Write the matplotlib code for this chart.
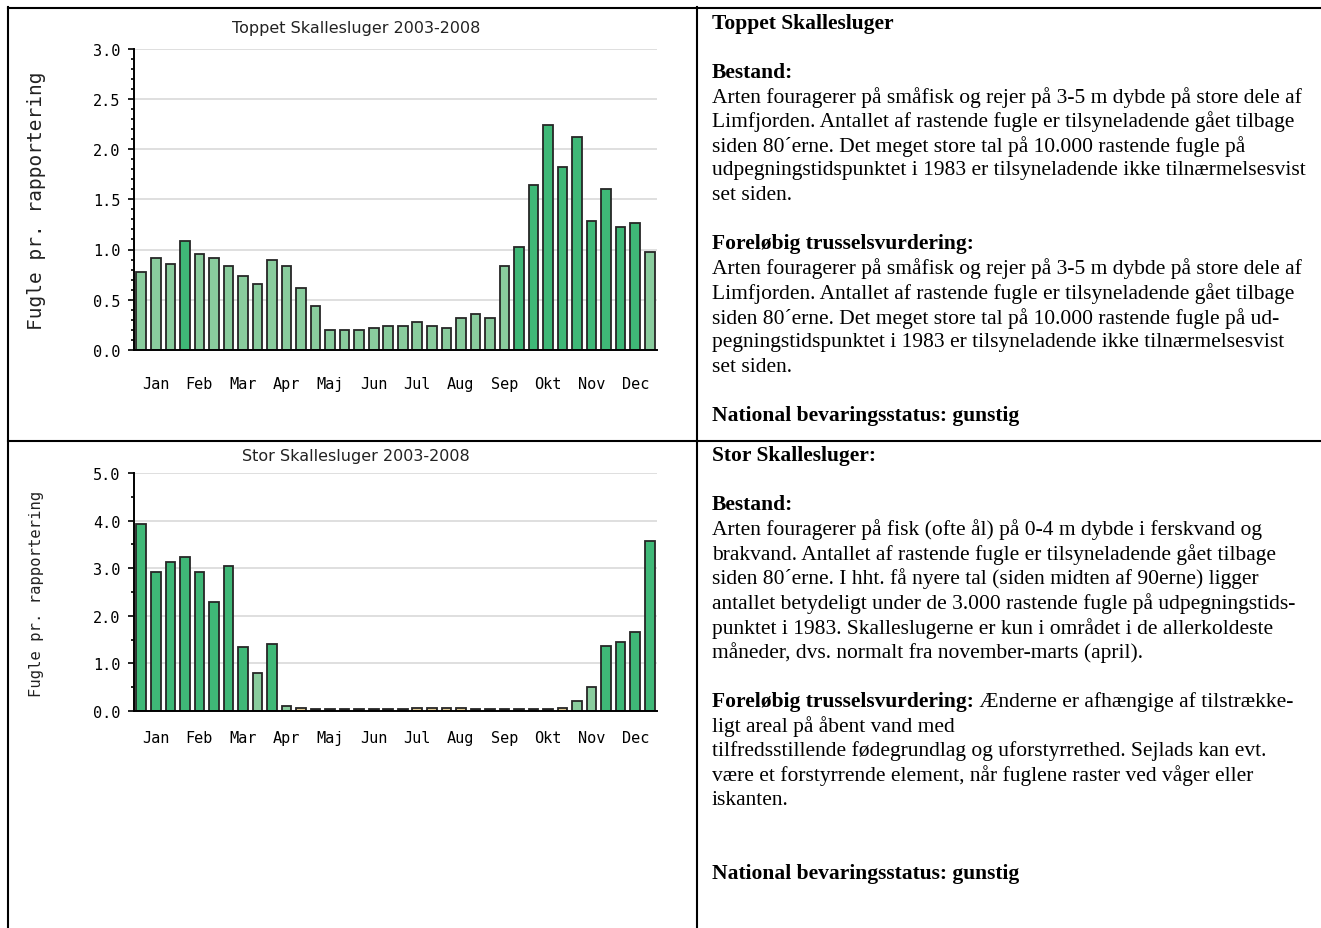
import matplotlib
matplotlib.use("Agg")
import matplotlib.pyplot as plt
from matplotlib.lines import Line2D
from matplotlib.ticker import MultipleLocator

W, H = 1321, 929

months = ["Jan", "Feb", "Mar", "Apr", "Maj", "Jun", "Jul", "Aug", "Sep", "Okt", "Nov", "Dec"]

# three bars per month
toppet_values = [0.78, 0.92, 0.86, 1.08, 0.96, 0.92, 0.84, 0.74, 0.66, 0.90, 0.84, 0.62,
                 0.44, 0.20, 0.20, 0.20, 0.22, 0.24, 0.24, 0.28, 0.24, 0.22, 0.32, 0.36,
                 0.32, 0.84, 1.02, 1.64, 2.24, 1.82, 2.12, 1.28, 1.60, 1.22, 1.26, 0.98]
toppet_shade = ["l", "l", "l", "d", "l", "l", "l", "l", "l", "l", "l", "l",
                "l", "l", "l", "l", "l", "l", "l", "l", "l", "l", "l", "l",
                "l", "l", "d", "d", "d", "d", "d", "d", "d", "d", "d", "l"]

stor_values = [3.93, 2.93, 3.14, 3.24, 2.93, 2.28, 3.04, 1.34, 0.80, 1.40, 0.11, 0.07,
               0.04, 0.04, 0.04, 0.04, 0.04, 0.04, 0.04, 0.07, 0.07, 0.07, 0.07, 0.04,
               0.04, 0.04, 0.04, 0.04, 0.04, 0.07, 0.21, 0.50, 1.37, 1.44, 1.65, 3.57]
stor_shade = ["d", "d", "d", "d", "d", "d", "d", "d", "l", "d", "l", "t",
              "k", "k", "k", "k", "k", "k", "k", "t", "t", "t", "t", "k",
              "k", "k", "k", "k", "k", "t", "l", "l", "d", "d", "d", "d"]

shade_colors = {"d": "#3fb877", "l": "#89cc9d", "t": "#e2cc93", "k": "#1a1a1a"}

toppet_text = [
    ("Toppet Skallesluger", True),
    ("", False),
    ("Bestand:", True),
    ("Arten fouragerer på småfisk og rejer på 3-5 m dybde på store dele af", False),
    ("Limfjorden. Antallet af rastende fugle er tilsyneladende gået tilbage", False),
    ("siden 80´erne. Det meget store tal på 10.000 rastende fugle på", False),
    ("udpegningstidspunktet i 1983 er tilsyneladende ikke tilnærmelsesvist", False),
    ("set siden.", False),
    ("", False),
    ("Foreløbig trusselsvurdering:", True),
    ("Arten fouragerer på småfisk og rejer på 3-5 m dybde på store dele af", False),
    ("Limfjorden. Antallet af rastende fugle er tilsyneladende gået tilbage", False),
    ("siden 80´erne. Det meget store tal på 10.000 rastende fugle på ud-", False),
    ("pegningstidspunktet i 1983 er tilsyneladende ikke tilnærmelsesvist", False),
    ("set siden.", False),
    ("", False),
    ("National bevaringsstatus: gunstig", True),
]

stor_text = [
    ("Stor Skallesluger:", True),
    ("", False),
    ("Bestand:", True),
    ("Arten fouragerer på fisk (ofte ål) på 0-4 m dybde i ferskvand og", False),
    ("brakvand. Antallet af rastende fugle er tilsyneladende gået tilbage", False),
    ("siden 80´erne. I hht. få nyere tal (siden midten af 90erne) ligger", False),
    ("antallet betydeligt under de 3.000 rastende fugle på udpegningstids-", False),
    ("punktet i 1983. Skalleslugerne er kun i området i de allerkoldeste", False),
    ("måneder, dvs. normalt fra november-marts (april).", False),
    ("", False),
    ("Foreløbig trusselsvurdering:| Ænderne er afhængige af tilstrække-", True),
    ("ligt areal på åbent vand med", False),
    ("tilfredsstillende fødegrundlag og uforstyrrethed. Sejlads kan evt.", False),
    ("være et forstyrrende element, når fuglene raster ved våger eller", False),
    ("iskanten.", False),
    ("", False),
    ("", False),
    ("National bevaringsstatus: gunstig", True),
]


def fx(x):
    return x / W


def fy(y):
    return 1 - y / H


fig = plt.figure(figsize=(W / 100, H / 100), dpi=100)
mono = "DejaVu Sans Mono"


def bar_chart(top, bottom, ymax, minor, values, shades, title, title_y, ylab_y, ylab_size, pad):
    ax = fig.add_axes([fx(134), fy(bottom), fx(657) - fx(134), fy(top) - fy(bottom)])
    xs = list(range(len(values)))
    colors = [shade_colors[s] for s in shades]
    ax.bar(xs, values, width=0.66, color=colors, edgecolor="#262626", linewidth=1.3, zorder=3)
    ax.set_xlim(-0.5, len(values) - 0.5)
    ax.set_ylim(0, ymax)
    ax.set_xticks([1 + 3 * i for i in range(12)])
    ax.set_xticklabels(months, fontfamily=mono, fontsize=11)
    ax.tick_params(axis="x", length=0, pad=pad)
    ax.yaxis.set_major_locator(MultipleLocator(ymax / (6 if ymax == 3 else 5)))
    ax.yaxis.set_minor_locator(MultipleLocator(minor))
    ax.yaxis.set_major_formatter(matplotlib.ticker.FormatStrFormatter("%.1f"))
    ax.tick_params(axis="y", which="major", length=4, width=1.2, pad=6, labelsize=11)
    ax.tick_params(axis="y", which="minor", length=2.5, width=1.2)
    for lab in ax.get_yticklabels():
        lab.set_fontfamily(mono)
    ax.yaxis.grid(True, color="#dcdcdc", linewidth=1.3)
    ax.set_axisbelow(True)
    for s in ["top", "right"]:
        ax.spines[s].set_visible(False)
    for s in ["left", "bottom"]:
        ax.spines[s].set_linewidth(1.4)
        ax.spines[s].set_zorder(4)
    fig.text(fx(356), fy(title_y), title, ha="center", va="center", fontsize=11.5, color="#222222")
    fig.text(fx(37), fy(ylab_y), "Fugle pr. rapportering", rotation=90, ha="center", va="center",
             fontfamily=mono, fontsize=ylab_size, color="#222222")
    return ax


bar_chart(49.5, 351, 3.0, 0.1, toppet_values, toppet_shade,
          "Toppet Skallesluger 2003-2008", 28, 201, 14, 19)
bar_chart(474, 712, 5.0, 0.5, stor_values, stor_shade,
          "Stor Skallesluger 2003-2008", 457, 594, 11.2, 14)

# table lines
lw = 1.5
for (x0, y0, x1, y1) in [(8, 8.5, W, 8.5), (8, 8, 8, H), (697, 8, 697, H), (8, 441.5, W, 441.5)]:
    fig.add_artist(Line2D([fx(x0), fx(x1)], [fy(y0), fy(y1)], color="black", linewidth=lw))

serif = "Liberation Serif"
tsize = 15.5
renderer = fig.canvas.get_renderer()


def write_block(lines, y0, step):
    for i, (line, bold) in enumerate(lines):
        if not line:
            continue
        y = y0 + i * step
        if "|" in line:
            head, rest = line.split("|")
            t = fig.text(fx(712), fy(y), head, fontfamily=serif, fontsize=tsize,
                         fontweight="bold", va="center")
            bb = t.get_window_extent(renderer)
            fig.text(bb.x1 / W, fy(y), rest, fontfamily=serif, fontsize=tsize, va="center")
        else:
            fig.text(fx(712), fy(y), line, fontfamily=serif, fontsize=tsize,
                     fontweight="bold" if bold else "normal", va="center")


write_block(toppet_text, 23.5, 24.55)
write_block(stor_text, 456, 24.6)

fig.savefig("out.png", dpi=100)
